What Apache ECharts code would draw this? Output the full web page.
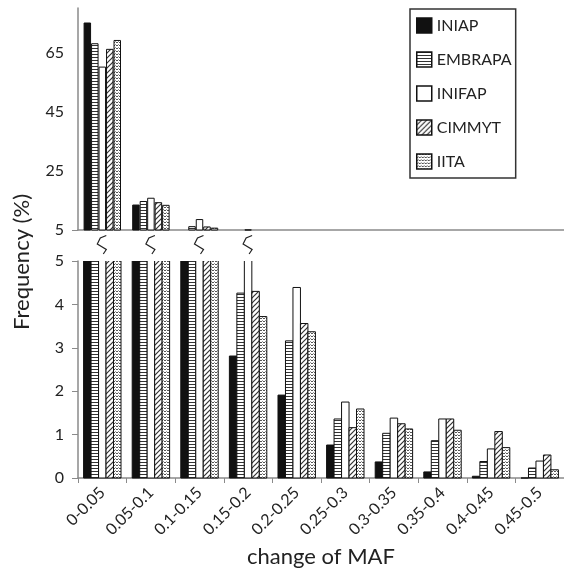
<!DOCTYPE html>
<html><head><meta charset="utf-8">
<script src="https://cdn.jsdelivr.net/npm/echarts@6/dist/echarts.min.js"></script>
<style>html,body{margin:0;padding:0;background:#fff}#c{width:564px;height:572px}</style>
</head><body><div id="c"></div>
<script>
// ---- data ----
const categories = ['0-0.05','0.05-0.1','0.1-0.15','0.15-0.2','0.2-0.25','0.25-0.3','0.3-0.35','0.35-0.4','0.4-0.45','0.45-0.5'];
const seriesNames = ['INIAP','EMBRAPA','INIFAP','CIMMYT','IITA'];
const INIAP   = [75.1, 13.6, 5.1, 2.81, 1.91, 0.76, 0.37, 0.14, 0.04, 0];
const EMBRAPA = [68.1, 14.8, 6.3, 4.26, 3.16, 1.36, 1.03, 0.86, 0.38, 0.23];
const INIFAP  = [60.2, 15.9, 8.7, 5.2, 4.39, 1.75, 1.38, 1.36, 0.67, 0.39];
const CIMMYT  = [66.2, 14.4, 6.2, 4.3, 3.56, 1.16, 1.25, 1.36, 1.07, 0.53];
const IITA    = [69.2, 13.5, 5.8, 3.72, 3.37, 1.59, 1.13, 1.10, 0.70, 0.19];
const topTicks = [5, 25, 45, 65];
const bottomTicks = [0, 1, 2, 3, 4, 5];
const breakCategories = [0, 1, 2, 3];
const allValues = [INIAP, EMBRAPA, INIFAP, CIMMYT, IITA];

// ---- patterns ----
function canvasOf(w, h, draw) {
  const c = document.createElement('canvas'); c.width = w; c.height = h;
  const g = c.getContext('2d'); g.fillStyle = '#fff'; g.fillRect(0, 0, w, h); draw(g); return c;
}
const fills = [
  '#111111',
  { image: canvasOf(4, 3, g => { g.fillStyle = '#333'; g.fillRect(0, 0, 4, 1); }), repeat: 'repeat' },
  '#ffffff',
  { image: canvasOf(5, 5, g => { g.strokeStyle = '#333'; g.lineWidth = 1.2; g.beginPath();
      g.moveTo(-1, 6); g.lineTo(6, -1); g.moveTo(-1, 1); g.lineTo(1, -1); g.moveTo(4, 6); g.lineTo(6, 4); g.stroke(); }), repeat: 'repeat' },
  { image: canvasOf(3, 3, g => { g.fillStyle = '#555'; g.fillRect(0, 0, 1, 1); g.fillRect(2, 0, 1, 1); g.fillStyle = '#999'; g.fillRect(1, 2, 1, 1); }), repeat: 'repeat' }
];

const FONT = 'Lato';
const axisGray = '#8a8a8a';
const catGap = 0.23;
const bottomMax = bottomTicks[bottomTicks.length - 1];

const series = [];
seriesNames.forEach((name, i) => {
  series.push({
    type: 'bar', name, xAxisIndex: 0, yAxisIndex: 0, data: allValues[i],
    barGap: '0%', barCategoryGap: (catGap * 100) + '%',
    itemStyle: { color: fills[i], borderColor: '#111', borderWidth: 1 },
    emphasis: { disabled: true }
  });
});
seriesNames.forEach((name, i) => {
  series.push({
    type: 'custom', xAxisIndex: 1, yAxisIndex: 1, silent: true, clip: false,
    data: allValues[i].map((v, j) => [j, v]),
    encode: { x: 0, y: 1 },
    renderItem: (params, api) => {
      const cat = api.value(0), v = api.value(1);
      const band = api.size([1, 0])[0];
      const bw = band * (1 - catGap) / 5;
      const base = api.coord([cat, 0]);
      const x0 = base[0] - band * (1 - catGap) / 2 + i * bw;
      const vc = Math.min(v, bottomMax);
      const yTop = api.coord([cat, vc])[1];
      const yb = base[1];
      const children = [{
        type: 'rect', shape: { x: x0, y: yTop, width: bw, height: yb - yTop },
        style: { fill: fills[i], stroke: null }
      }];
      const pts = v > bottomMax
        ? [[x0, yTop], [x0, yb], [x0 + bw, yb], [x0 + bw, yTop]]
        : [[x0, yTop], [x0, yb], [x0 + bw, yb], [x0 + bw, yTop], [x0, yTop]];
      children.push({ type: 'polyline', shape: { points: pts }, style: { stroke: '#111', lineWidth: 1, fill: null } });
      return { type: 'group', children };
    }
  });
});
series.push({
  type: 'custom', xAxisIndex: 0, yAxisIndex: 0, silent: true, clip: false, z: 10,
  data: breakCategories.map(c => [c, topTicks[0]]),
  encode: { x: 0, y: 1 },
  renderItem: (params, api) => {
    const p = api.coord([api.value(0), api.value(1)]);
    const rel = [[4, 5.5], [-2, 8], [-5, 14], [4, 19.5], [1, 24]];
    return { type: 'polyline', shape: { points: rel.map(r => [p[0] + r[0], p[1] + r[1]]) },
      style: { stroke: '#222', lineWidth: 1.2, fill: null } };
  }
});

const chart = echarts.init(document.getElementById('c'), null, { renderer: 'canvas' });
chart.setOption({
  animation: false,
  backgroundColor: '#fff',
  textStyle: { fontFamily: FONT },
  legend: {
    data: seriesNames, orient: 'vertical', left: 410, top: 9,
    padding: [8, 4, 8, 6], itemWidth: 15, itemHeight: 15, itemGap: 17,
    borderColor: '#333', borderWidth: 1.5, icon: 'rect', selectedMode: false,
    itemStyle: { borderWidth: 1.5 },
    textStyle: { fontFamily: FONT, fontSize: 16, color: '#222', lineHeight: 17 }
  },
  grid: [
    { left: 78, top: 8, width: 490, height: 222 },
    { left: 78, top: 261, width: 490, height: 217 }
  ],
  xAxis: [
    { type: 'category', gridIndex: 0, data: categories,
      axisLine: { lineStyle: { color: axisGray, width: 1.5 } }, axisTick: { show: false }, axisLabel: { show: false } },
    { type: 'category', gridIndex: 1, data: categories,
      axisLine: { lineStyle: { color: axisGray, width: 1.5 } },
      axisTick: { show: true, length: 5, lineStyle: { color: axisGray } },
      axisLabel: { interval: 0, rotate: 45, fontSize: 16, color: '#222', margin: 12, fontFamily: FONT },
      name: 'change of MAF', nameLocation: 'middle', nameGap: 68,
      nameTextStyle: { fontSize: 22, color: '#222', fontFamily: FONT } }
  ],
  yAxis: [
    { type: 'value', gridIndex: 0, min: 5, max: 80, interval: 20,
      splitLine: { show: false },
      axisLine: { show: true, lineStyle: { color: axisGray, width: 1.5 } },
      axisTick: { show: true, length: 6, customValues: [topTicks[0]], lineStyle: { color: axisGray } },
      axisLabel: { customValues: topTicks, fontSize: 16, color: '#222', margin: 14, fontFamily: FONT } },
    { type: 'value', gridIndex: 1, min: 0, max: bottomMax, interval: 1,
      splitLine: { show: false },
      axisLine: { show: true, lineStyle: { color: axisGray, width: 1.5 } },
      axisTick: { show: true, length: 6, lineStyle: { color: axisGray } },
      axisLabel: { fontSize: 16, color: '#222', margin: 14, fontFamily: FONT } }
  ],
  graphic: [{
    type: 'text', x: 22, y: 262, rotation: Math.PI / 2,
    style: { text: 'Frequency (%)', fontSize: 22, fontFamily: FONT, fill: '#222', align: 'center', verticalAlign: 'middle' }
  }],
  series
});
</script></body></html>
